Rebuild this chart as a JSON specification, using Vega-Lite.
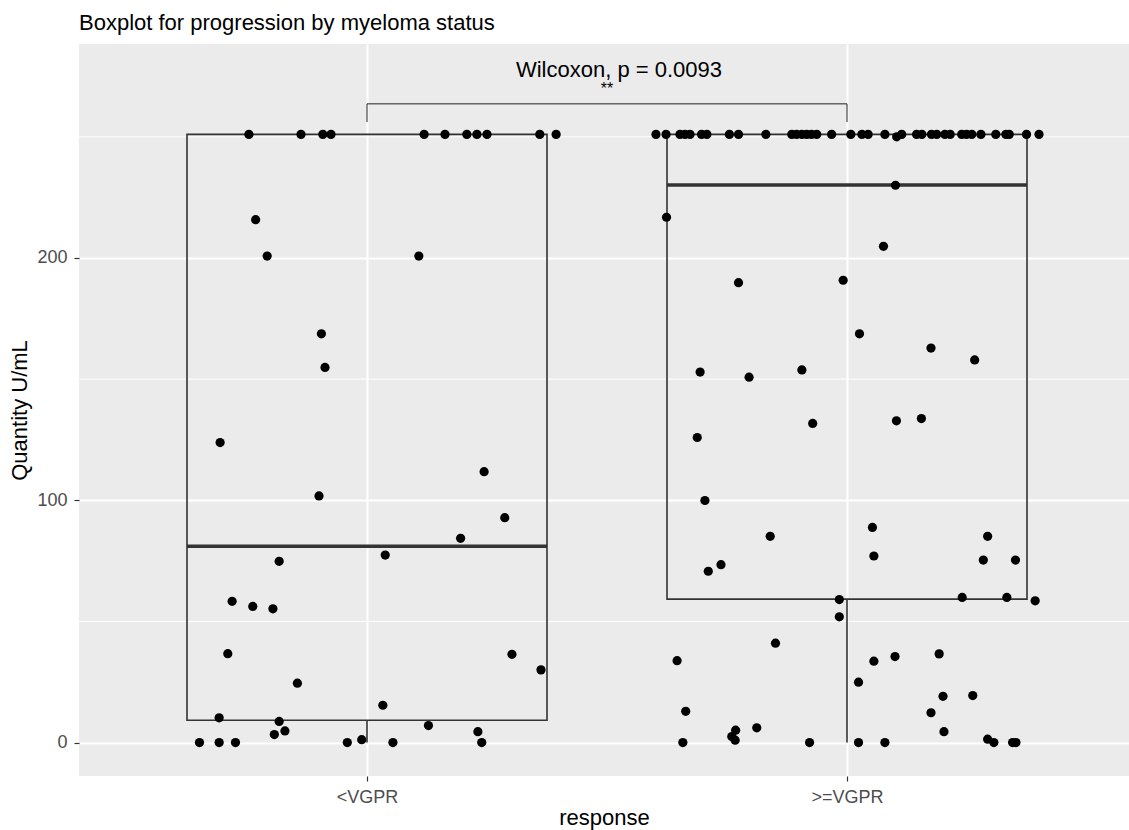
{
  "$schema": "https://vega.github.io/schema/vega-lite/v6.json",
  "width": 1050,
  "height": 732,
  "autosize": {"type": "none"},
  "padding": {"left": 79, "top": 44, "right": 0, "bottom": 54},
  "background": "white",
  "title": {"text": "Boxplot for progression by myeloma status", "anchor": "start", "frame": "group", "fontSize": 22, "fontWeight": "normal", "font": "Liberation Sans", "color": "black", "offset": 16, "baseline": "alphabetic", "dy": 24},
  "config": {
    "view": {"fill": "#EBEBEB", "stroke": null},
    "axis": {"domain": false, "tickColor": "#333333", "tickSize": 5, "tickWidth": 1.2, "labelColor": "#4D4D4D", "labelFont": "Liberation Sans", "labelFontSize": 18, "titleFont": "Liberation Sans", "titleFontSize": 22, "titleFontWeight": "normal", "titleColor": "black", "gridColor": "white", "gridWidth": 2, "grid": true, "labelPadding": 7}
  },
  "datasets": {
    "pts": [
      {"g": "<VGPR", "xj": 0.754, "v": 251}, {"g": "<VGPR", "xj": 0.8625, "v": 251}, {"g": "<VGPR", "xj": 0.908, "v": 251}, {"g": "<VGPR", "xj": 0.925, "v": 251},
      {"g": "<VGPR", "xj": 1.119, "v": 251}, {"g": "<VGPR", "xj": 1.1625, "v": 251}, {"g": "<VGPR", "xj": 1.208, "v": 251}, {"g": "<VGPR", "xj": 1.229, "v": 251},
      {"g": "<VGPR", "xj": 1.25, "v": 251}, {"g": "<VGPR", "xj": 1.36, "v": 251}, {"g": "<VGPR", "xj": 1.394, "v": 251},
      {"g": "<VGPR", "xj": 0.768, "v": 215.8}, {"g": "<VGPR", "xj": 0.792, "v": 200.8}, {"g": "<VGPR", "xj": 1.108, "v": 200.8},
      {"g": "<VGPR", "xj": 0.905, "v": 168.7}, {"g": "<VGPR", "xj": 0.9125, "v": 154.8}, {"g": "<VGPR", "xj": 0.694, "v": 123.8},
      {"g": "<VGPR", "xj": 1.244, "v": 111.8}, {"g": "<VGPR", "xj": 0.9, "v": 101.8}, {"g": "<VGPR", "xj": 1.287, "v": 92.8},
      {"g": "<VGPR", "xj": 1.195, "v": 84.3}, {"g": "<VGPR", "xj": 1.038, "v": 77.4}, {"g": "<VGPR", "xj": 0.817, "v": 74.8},
      {"g": "<VGPR", "xj": 0.719, "v": 58.3}, {"g": "<VGPR", "xj": 0.762, "v": 56.2}, {"g": "<VGPR", "xj": 0.804, "v": 55.2},
      {"g": "<VGPR", "xj": 0.71, "v": 36.7}, {"g": "<VGPR", "xj": 1.302, "v": 36.4}, {"g": "<VGPR", "xj": 1.3625, "v": 30.0},
      {"g": "<VGPR", "xj": 0.855, "v": 24.5}, {"g": "<VGPR", "xj": 1.033, "v": 15.4}, {"g": "<VGPR", "xj": 0.692, "v": 10.2},
      {"g": "<VGPR", "xj": 0.817, "v": 8.7}, {"g": "<VGPR", "xj": 1.128, "v": 7.0}, {"g": "<VGPR", "xj": 0.829, "v": 4.8},
      {"g": "<VGPR", "xj": 0.807, "v": 3.3}, {"g": "<VGPR", "xj": 1.231, "v": 4.5}, {"g": "<VGPR", "xj": 0.989, "v": 1.2},
      {"g": "<VGPR", "xj": 0.651, "v": 0}, {"g": "<VGPR", "xj": 0.692, "v": 0}, {"g": "<VGPR", "xj": 0.726, "v": 0},
      {"g": "<VGPR", "xj": 0.959, "v": 0}, {"g": "<VGPR", "xj": 1.054, "v": 0}, {"g": "<VGPR", "xj": 1.239, "v": 0},
      {"g": ">=VGPR", "xj": 1.602, "v": 251}, {"g": ">=VGPR", "xj": 1.623, "v": 251}, {"g": ">=VGPR", "xj": 1.652, "v": 251},
      {"g": ">=VGPR", "xj": 1.6625, "v": 251}, {"g": ">=VGPR", "xj": 1.673, "v": 251}, {"g": ">=VGPR", "xj": 1.697, "v": 251},
      {"g": ">=VGPR", "xj": 1.708, "v": 251}, {"g": ">=VGPR", "xj": 1.755, "v": 251}, {"g": ">=VGPR", "xj": 1.774, "v": 251},
      {"g": ">=VGPR", "xj": 1.831, "v": 251}, {"g": ">=VGPR", "xj": 1.885, "v": 251}, {"g": ">=VGPR", "xj": 1.895, "v": 251},
      {"g": ">=VGPR", "xj": 1.906, "v": 251}, {"g": ">=VGPR", "xj": 1.916, "v": 251}, {"g": ">=VGPR", "xj": 1.926, "v": 251},
      {"g": ">=VGPR", "xj": 1.937, "v": 251}, {"g": ">=VGPR", "xj": 1.968, "v": 251}, {"g": ">=VGPR", "xj": 2.008, "v": 251},
      {"g": ">=VGPR", "xj": 2.031, "v": 251}, {"g": ">=VGPR", "xj": 2.044, "v": 251}, {"g": ">=VGPR", "xj": 2.079, "v": 251},
      {"g": ">=VGPR", "xj": 2.1035, "v": 250}, {"g": ">=VGPR", "xj": 2.114, "v": 251}, {"g": ">=VGPR", "xj": 2.145, "v": 251},
      {"g": ">=VGPR", "xj": 2.156, "v": 251}, {"g": ">=VGPR", "xj": 2.176, "v": 251}, {"g": ">=VGPR", "xj": 2.187, "v": 251},
      {"g": ">=VGPR", "xj": 2.204, "v": 251}, {"g": ">=VGPR", "xj": 2.215, "v": 251}, {"g": ">=VGPR", "xj": 2.239, "v": 251},
      {"g": ">=VGPR", "xj": 2.249, "v": 251}, {"g": ">=VGPR", "xj": 2.26, "v": 251}, {"g": ">=VGPR", "xj": 2.279, "v": 251},
      {"g": ">=VGPR", "xj": 2.31, "v": 251}, {"g": ">=VGPR", "xj": 2.331, "v": 251}, {"g": ">=VGPR", "xj": 2.338, "v": 251},
      {"g": ">=VGPR", "xj": 2.374, "v": 251}, {"g": ">=VGPR", "xj": 2.4, "v": 251},
      {"g": ">=VGPR", "xj": 2.101, "v": 230.0}, {"g": ">=VGPR", "xj": 1.624, "v": 216.8}, {"g": ">=VGPR", "xj": 2.076, "v": 204.8},
      {"g": ">=VGPR", "xj": 1.774, "v": 189.8}, {"g": ">=VGPR", "xj": 1.992, "v": 190.8}, {"g": ">=VGPR", "xj": 2.026, "v": 168.7},
      {"g": ">=VGPR", "xj": 2.175, "v": 162.8}, {"g": ">=VGPR", "xj": 2.266, "v": 157.9}, {"g": ">=VGPR", "xj": 1.694, "v": 152.9},
      {"g": ">=VGPR", "xj": 1.796, "v": 150.8}, {"g": ">=VGPR", "xj": 1.906, "v": 153.8}, {"g": ">=VGPR", "xj": 1.9285, "v": 131.7},
      {"g": ">=VGPR", "xj": 2.103, "v": 132.8}, {"g": ">=VGPR", "xj": 2.155, "v": 133.7}, {"g": ">=VGPR", "xj": 1.688, "v": 125.9},
      {"g": ">=VGPR", "xj": 1.704, "v": 99.9}, {"g": ">=VGPR", "xj": 2.053, "v": 88.8}, {"g": ">=VGPR", "xj": 2.293, "v": 85.1},
      {"g": ">=VGPR", "xj": 1.84, "v": 85.1}, {"g": ">=VGPR", "xj": 2.056, "v": 77.0}, {"g": ">=VGPR", "xj": 2.284, "v": 75.3},
      {"g": ">=VGPR", "xj": 2.351, "v": 75.3}, {"g": ">=VGPR", "xj": 1.7375, "v": 73.4}, {"g": ">=VGPR", "xj": 1.711, "v": 70.7},
      {"g": ">=VGPR", "xj": 1.984, "v": 59.0}, {"g": ">=VGPR", "xj": 2.24, "v": 59.9}, {"g": ">=VGPR", "xj": 2.333, "v": 59.9},
      {"g": ">=VGPR", "xj": 2.392, "v": 58.5}, {"g": ">=VGPR", "xj": 1.984, "v": 51.9}, {"g": ">=VGPR", "xj": 1.851, "v": 41.0},
      {"g": ">=VGPR", "xj": 1.646, "v": 33.8}, {"g": ">=VGPR", "xj": 2.056, "v": 33.6}, {"g": ">=VGPR", "xj": 2.1, "v": 35.5},
      {"g": ">=VGPR", "xj": 2.192, "v": 36.6}, {"g": ">=VGPR", "xj": 2.024, "v": 24.9}, {"g": ">=VGPR", "xj": 2.2, "v": 19.1},
      {"g": ">=VGPR", "xj": 2.262, "v": 19.4}, {"g": ">=VGPR", "xj": 1.664, "v": 12.9}, {"g": ">=VGPR", "xj": 2.175, "v": 12.3},
      {"g": ">=VGPR", "xj": 1.768, "v": 5.1}, {"g": ">=VGPR", "xj": 1.76, "v": 2.5}, {"g": ">=VGPR", "xj": 1.767, "v": 1.0},
      {"g": ">=VGPR", "xj": 1.812, "v": 6.1}, {"g": ">=VGPR", "xj": 2.202, "v": 4.5}, {"g": ">=VGPR", "xj": 2.293, "v": 1.4},
      {"g": ">=VGPR", "xj": 1.658, "v": 0}, {"g": ">=VGPR", "xj": 1.922, "v": 0}, {"g": ">=VGPR", "xj": 2.024, "v": 0},
      {"g": ">=VGPR", "xj": 2.079, "v": 0}, {"g": ">=VGPR", "xj": 2.306, "v": 0}, {"g": ">=VGPR", "xj": 2.345, "v": 0},
      {"g": ">=VGPR", "xj": 2.352, "v": 0}
    ],
    "box": [
      {"g": "<VGPR", "grp": 1, "lo": 0, "q1": 9.2, "med": 81.0, "q3": 251},
      {"g": ">=VGPR", "grp": 2, "lo": 0, "q1": 59.2, "med": 230.1, "q3": 251}
    ],
    "minor": [{"m": 50}, {"m": 150}, {"m": 250}],
    "bracket": [
      {"xa": 1, "xb": 2, "ya": 263.6, "yb": 263.6},
      {"xa": 1, "xb": 1, "ya": 256.1, "yb": 263.6},
      {"xa": 2, "xb": 2, "ya": 256.1, "yb": 263.6}
    ],
    "pval": [{"tx": 1.525, "ty": 277.5, "label": "Wilcoxon, p = 0.0093"}],
    "stars": [{"tx": 1.5, "ty": 269.9, "label": "**"}]
  },
  "layer": [
    {
      "data": {"name": "minor"},
      "mark": {"type": "rule", "color": "white", "strokeWidth": 1},
      "encoding": {
        "y": {"field": "m", "type": "quantitative", "scale": {"domain": [-13.8, 288.3], "nice": false, "zero": false, "padding": 0}, "axis": {"values": [0, 100, 200], "title": "Quantity U/mL", "titlePadding": 5}}
      }
    },
    {
      "data": {"name": "box"},
      "mark": {"type": "rule", "color": "#333333", "strokeWidth": 1.6},
      "encoding": {
        "x": {"field": "grp", "type": "quantitative", "scale": {"domain": [0.4, 2.5875], "nice": false, "zero": false, "padding": 0}, "axis": {"values": [1, 2], "labelExpr": "datum.value == 1 ? '<VGPR' : '>=VGPR'", "title": "response", "titlePadding": 1}},
        "y": {"field": "lo", "type": "quantitative"},
        "y2": {"field": "q1"}
      }
    },
    {
      "data": {"name": "box"},
      "mark": {"type": "bar", "filled": false, "color": "#333333", "strokeWidth": 1.6, "width": 360},
      "encoding": {
        "x": {"field": "grp", "type": "quantitative"},
        "y": {"field": "q1", "type": "quantitative"},
        "y2": {"field": "q3"}
      }
    },
    {
      "data": {"name": "box"},
      "mark": {"type": "tick", "orient": "horizontal", "color": "#333333", "size": 360, "thickness": 3.5, "opacity": 1},
      "encoding": {
        "x": {"field": "grp", "type": "quantitative"},
        "y": {"field": "med", "type": "quantitative"}
      }
    },
    {
      "data": {"name": "pts"},
      "mark": {"type": "point", "filled": true, "color": "black", "size": 85, "opacity": 1},
      "encoding": {
        "x": {"field": "xj", "type": "quantitative"},
        "y": {"field": "v", "type": "quantitative"}
      }
    },
    {
      "data": {"name": "bracket"},
      "mark": {"type": "rule", "color": "#222222", "strokeWidth": 1},
      "encoding": {
        "x": {"field": "xa", "type": "quantitative"},
        "x2": {"field": "xb"},
        "y": {"field": "ya", "type": "quantitative"},
        "y2": {"field": "yb"}
      }
    },
    {
      "data": {"name": "pval"},
      "mark": {"type": "text", "font": "Liberation Sans", "fontSize": 22, "color": "black", "baseline": "middle", "align": "center"},
      "encoding": {
        "x": {"field": "tx", "type": "quantitative"},
        "y": {"field": "ty", "type": "quantitative"},
        "text": {"field": "label"}
      }
    },
    {
      "data": {"name": "stars"},
      "mark": {"type": "text", "font": "Liberation Sans", "fontSize": 16, "color": "black", "baseline": "middle", "align": "center"},
      "encoding": {
        "x": {"field": "tx", "type": "quantitative"},
        "y": {"field": "ty", "type": "quantitative"},
        "text": {"field": "label"}
      }
    }
  ]
}
